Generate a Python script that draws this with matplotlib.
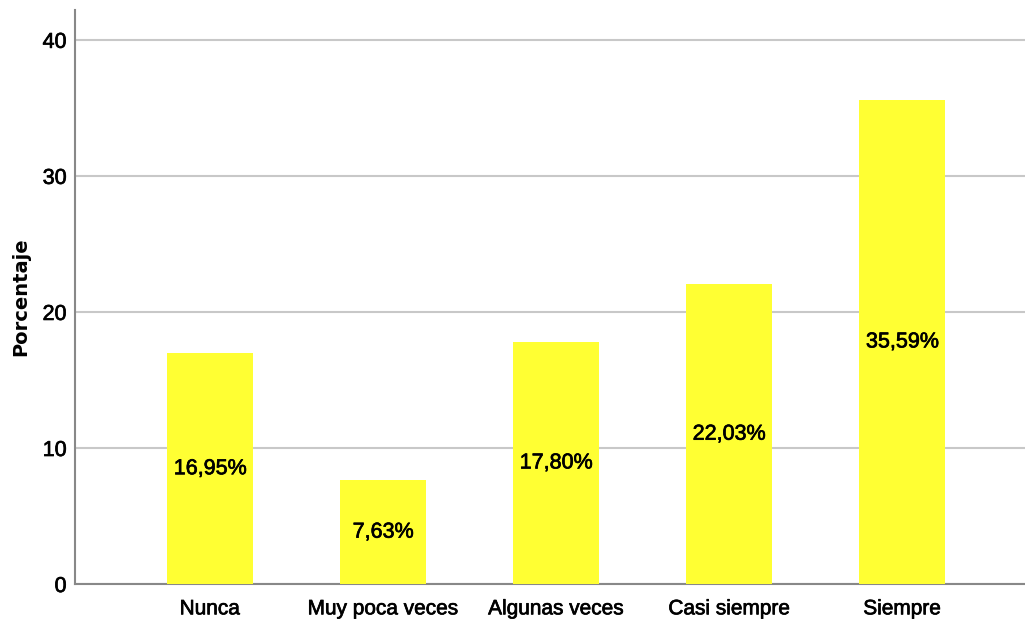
import matplotlib
matplotlib.use('Agg')
import matplotlib.pyplot as plt
import matplotlib.patheffects as pe

# Datos del gráfico
categorias = ['Nunca', 'Muy poca veces', 'Algunas veces', 'Casi siempre', 'Siempre']
porcentajes = [16.95, 7.63, 17.80, 22.03, 35.59]
etiquetas = ['16,95%', '7,63%', '17,80%', '22,03%', '35,59%']
yticks = [0, 10, 20, 30, 40]

plt.rcParams['font.family'] = ['Liberation Sans', 'DejaVu Sans']

# trazo fino para engrosar un poco el texto
grueso = [pe.withStroke(linewidth=0.5, foreground='black')]

fig = plt.figure(figsize=(10.25, 6.2), dpi=100)
ax = fig.add_axes([0.0732, 0.058, 0.9268, 0.926])

x = list(range(len(categorias)))
ax.bar(x, porcentajes, width=0.5, color='#FFFF33', zorder=3)

# Etiquetas en el centro de cada barra
for xi, val, txt in zip(x, porcentajes, etiquetas):
    ax.text(xi, val / 2, txt, ha='center', va='center', fontsize=15.5,
            zorder=4, path_effects=grueso)

ax.set_xlim(-0.78, 4.71)
ax.set_ylim(0, 42.2)
ax.set_xticks(x)
ax.set_xticklabels(categorias, fontsize=15, path_effects=grueso)
ax.set_yticks(yticks)
ax.set_yticklabels([str(t) for t in yticks], fontsize=15.5, path_effects=grueso)
ax.tick_params(axis='y', length=0, pad=6)
ax.tick_params(axis='x', length=0, pad=11)
ax.set_ylabel('Porcentaje', fontsize=14, fontweight='bold', labelpad=9,
              family=['DejaVu Sans'])

ax.yaxis.grid(True, color='#C8C8C8', linewidth=1.5, zorder=0)
for side in ['top', 'right']:
    ax.spines[side].set_visible(False)
ax.spines['left'].set_color('#888888')
ax.spines['bottom'].set_color('#888888')
ax.spines['left'].set_linewidth(1.5)
ax.spines['bottom'].set_linewidth(1.5)

plt.savefig('out.png', dpi=100)
